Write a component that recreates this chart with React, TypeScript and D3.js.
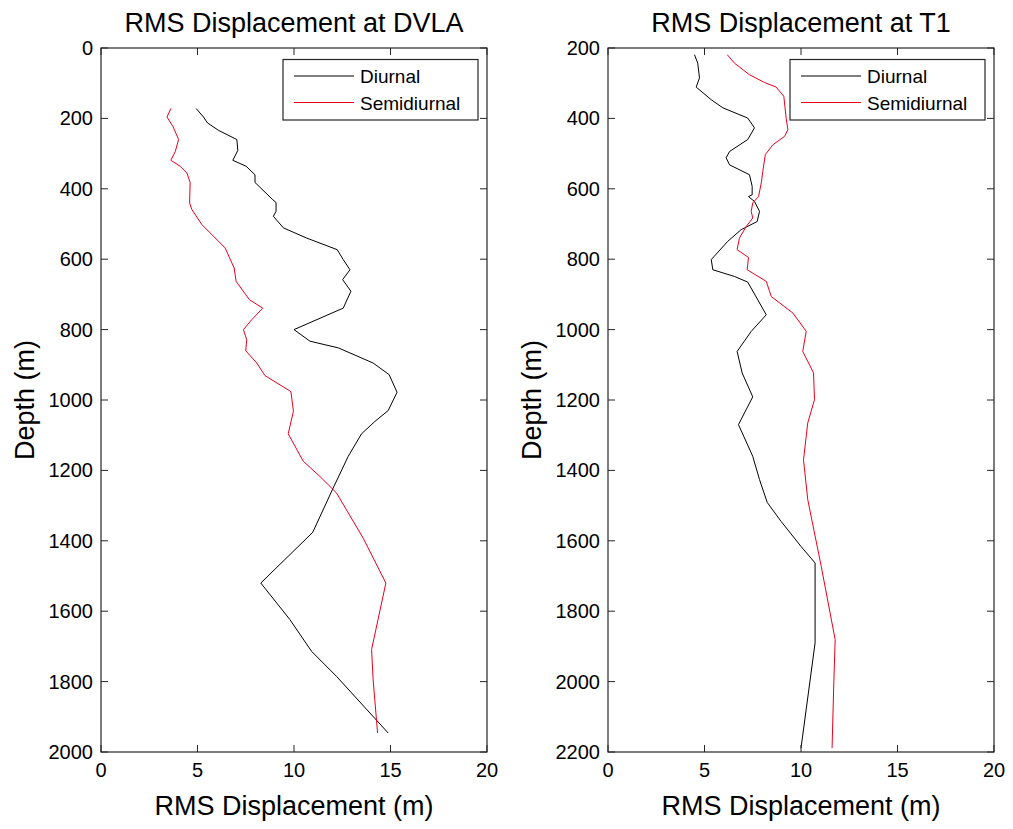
import React from "react";
import * as d3 from "d3";

// ---------- DATA ----------
const dvlaDiurnalDepth = [172, 196, 213, 234, 260, 291, 319, 336, 360, 382, 431, 439, 464, 478, 511, 540, 573, 601, 630, 658, 691, 739, 800, 833, 852, 895, 928, 978, 1030, 1061, 1096, 1160, 1250, 1376, 1444, 1520, 1624, 1714, 1785, 1946];
const dvlaDiurnalRms = [4.93, 5.31, 5.52, 6.09, 7.04, 7.09, 6.83, 7.52, 7.98, 7.98, 8.9, 9.07, 9.07, 8.93, 9.45, 10.66, 12.24, 12.55, 12.9, 12.52, 12.95, 12.55, 10.0, 10.83, 12.3, 14.1, 14.93, 15.34, 14.88, 14.19, 13.5, 12.81, 12.03, 10.97, 9.7, 8.28, 9.79, 10.91, 12.2, 14.88];

const dvlaSemiDepth = [172, 196, 223, 260, 294, 319, 336, 355, 382, 440, 459, 502, 568, 625, 663, 715, 739, 772, 800, 829, 860, 895, 931, 976, 1032, 1096, 1174, 1217, 1264, 1392, 1520, 1709, 1795, 1946];
const dvlaSemiRms = [3.62, 3.42, 3.73, 4.02, 3.85, 3.62, 4.1, 4.45, 4.62, 4.59, 4.71, 5.23, 6.43, 6.9, 7.0, 7.69, 8.38, 7.81, 7.38, 7.55, 7.5, 8.07, 8.5, 9.84, 9.97, 9.7, 10.48, 11.34, 12.2, 13.58, 14.76, 14.02, 14.1, 14.33];

const t1DiurnalDepth = [219, 243, 285, 311, 347, 370, 399, 427, 460, 494, 512, 532, 560, 593, 617, 622, 636, 664, 693, 716, 749, 801, 830, 849, 865, 958, 1005, 1062, 1123, 1191, 1270, 1360, 1426, 1491, 1545, 1616, 1663, 1890, 2189];
const t1DiurnalRms = [4.48, 4.65, 4.74, 4.57, 5.35, 5.95, 7.24, 7.59, 7.24, 6.3, 6.12, 6.3, 7.33, 7.47, 7.47, 7.28, 7.59, 7.85, 7.73, 6.9, 6.21, 5.35, 5.43, 6.55, 7.24, 8.2, 7.42, 6.69, 6.95, 7.5, 6.76, 7.5, 7.85, 8.25, 8.97, 10.0, 10.73, 10.73, 10.0];

const t1SemiDepth = [219, 243, 276, 298, 311, 337, 399, 432, 451, 475, 503, 551, 584, 622, 640, 664, 683, 707, 740, 773, 795, 830, 863, 906, 953, 1005, 1062, 1123, 1199, 1265, 1370, 1483, 1673, 1881, 2004, 2189];
const t1SemiRms = [6.18, 6.55, 7.33, 8.11, 8.71, 9.11, 9.23, 9.32, 9.15, 8.54, 8.15, 8.02, 7.94, 7.8, 7.5, 7.42, 7.5, 7.16, 6.81, 6.69, 7.28, 7.21, 8.2, 8.46, 9.58, 10.27, 10.09, 10.65, 10.7, 10.35, 10.13, 10.35, 11.05, 11.77, 11.7, 11.61];

const xTicks = [0, 5, 10, 15, 20];
const dvlaDepthTicks = [0, 200, 400, 600, 800, 1000, 1200, 1400, 1600, 1800, 2000];
const t1DepthTicks = [200, 400, 600, 800, 1000, 1200, 1400, 1600, 1800, 2000, 2200];
const seriesNames = ["Diurnal", "Semidiurnal"];
const seriesColors = ["#000000", "#e8001c"];

const FONT = "'Liberation Sans', Arial, Helvetica, sans-serif";

type PanelProps = {
  left: number;
  title: string;
  depthDomain: [number, number];
  depthTicks: number[];
  series: { depth: number[]; rms: number[] }[];
};

function Panel({ left, title, depthDomain, depthTicks, series }: PanelProps) {
  const width = 386;
  const top = 48;
  const bottom = 752;
  const x = d3.scaleLinear().domain([0, 20]).range([left, left + width]);
  const y = d3.scaleLinear().domain(depthDomain).range([top, bottom]);
  const tick = 7;
  const axisColor = "#262626";
  const line = d3
    .line<[number, number]>()
    .x((d) => x(d[0]))
    .y((d) => y(d[1]));

  const legX0 = left + 182;
  const legX1 = left + 377;
  const legY0 = 59.5;
  const legY1 = 120;

  return (
    <g>
      <text
        x={left + width / 2}
        y={32}
        textAnchor="middle"
        fontFamily={FONT}
        fontSize={27}
        fill="#000"
      >
        {title}
      </text>
      {/* data lines */}
      {series.map((s, i) => (
        <path
          key={i}
          d={line(s.depth.map((dd, k) => [s.rms[k], dd] as [number, number])) || ""}
          fill="none"
          stroke={seriesColors[i]}
          strokeWidth={1}
        />
      ))}
      {/* box */}
      <rect
        x={left}
        y={top}
        width={width}
        height={bottom - top}
        fill="none"
        stroke={axisColor}
        strokeWidth={1.2}
      />
      {/* x ticks */}
      {xTicks.map((t) => (
        <g key={"x" + t}>
          <line x1={x(t)} x2={x(t)} y1={bottom} y2={bottom - tick} stroke={axisColor} />
          <line x1={x(t)} x2={x(t)} y1={top} y2={top + tick} stroke={axisColor} />
          <text
            x={x(t)}
            y={bottom + 25}
            textAnchor="middle"
            fontFamily={FONT}
            fontSize={20}
            fill="#000"
          >
            {t}
          </text>
        </g>
      ))}
      {/* y ticks */}
      {depthTicks.map((t) => (
        <g key={"y" + t}>
          <line x1={left} x2={left + tick} y1={y(t)} y2={y(t)} stroke={axisColor} />
          <line x1={left + width} x2={left + width - tick} y1={y(t)} y2={y(t)} stroke={axisColor} />
          <text
            x={left - 8}
            y={y(t) + 7}
            textAnchor="end"
            fontFamily={FONT}
            fontSize={20}
            fill="#000"
          >
            {t}
          </text>
        </g>
      ))}
      {/* axis labels */}
      <text
        x={left + width / 2}
        y={815}
        textAnchor="middle"
        fontFamily={FONT}
        fontSize={27}
        fill="#000"
      >
        RMS Displacement (m)
      </text>
      <text
        transform={`translate(${left - 67},400) rotate(-90)`}
        textAnchor="middle"
        fontFamily={FONT}
        fontSize={27}
        fill="#000"
      >
        Depth (m)
      </text>
      {/* legend */}
      <rect
        x={legX0}
        y={legY0}
        width={legX1 - legX0}
        height={legY1 - legY0}
        fill="#fff"
        stroke={axisColor}
        strokeWidth={1.2}
      />
      {seriesNames.map((n, i) => (
        <g key={n}>
          <line
            x1={legX0 + 11}
            x2={legX0 + 71}
            y1={76 + i * 26.5}
            y2={76 + i * 26.5}
            stroke={seriesColors[i]}
            strokeWidth={1}
          />
          <text
            x={legX0 + 77}
            y={76 + i * 26.5 + 7}
            fontFamily={FONT}
            fontSize={19}
            fill="#000"
          >
            {n}
          </text>
        </g>
      ))}
    </g>
  );
}

export default function App() {
  return (
    <svg
      width={1013}
      height={829}
      style={{ position: "absolute", left: 0, top: 0, background: "#fff" }}
    >
      <rect x={0} y={0} width={1013} height={829} fill="#fff" />
      <Panel
        left={101}
        title="RMS Displacement at DVLA"
        depthDomain={[0, 2000]}
        depthTicks={dvlaDepthTicks}
        series={[
          { depth: dvlaDiurnalDepth, rms: dvlaDiurnalRms },
          { depth: dvlaSemiDepth, rms: dvlaSemiRms },
        ]}
      />
      <Panel
        left={608}
        title="RMS Displacement at T1"
        depthDomain={[200, 2200]}
        depthTicks={t1DepthTicks}
        series={[
          { depth: t1DiurnalDepth, rms: t1DiurnalRms },
          { depth: t1SemiDepth, rms: t1SemiRms },
        ]}
      />
    </svg>
  );
}
